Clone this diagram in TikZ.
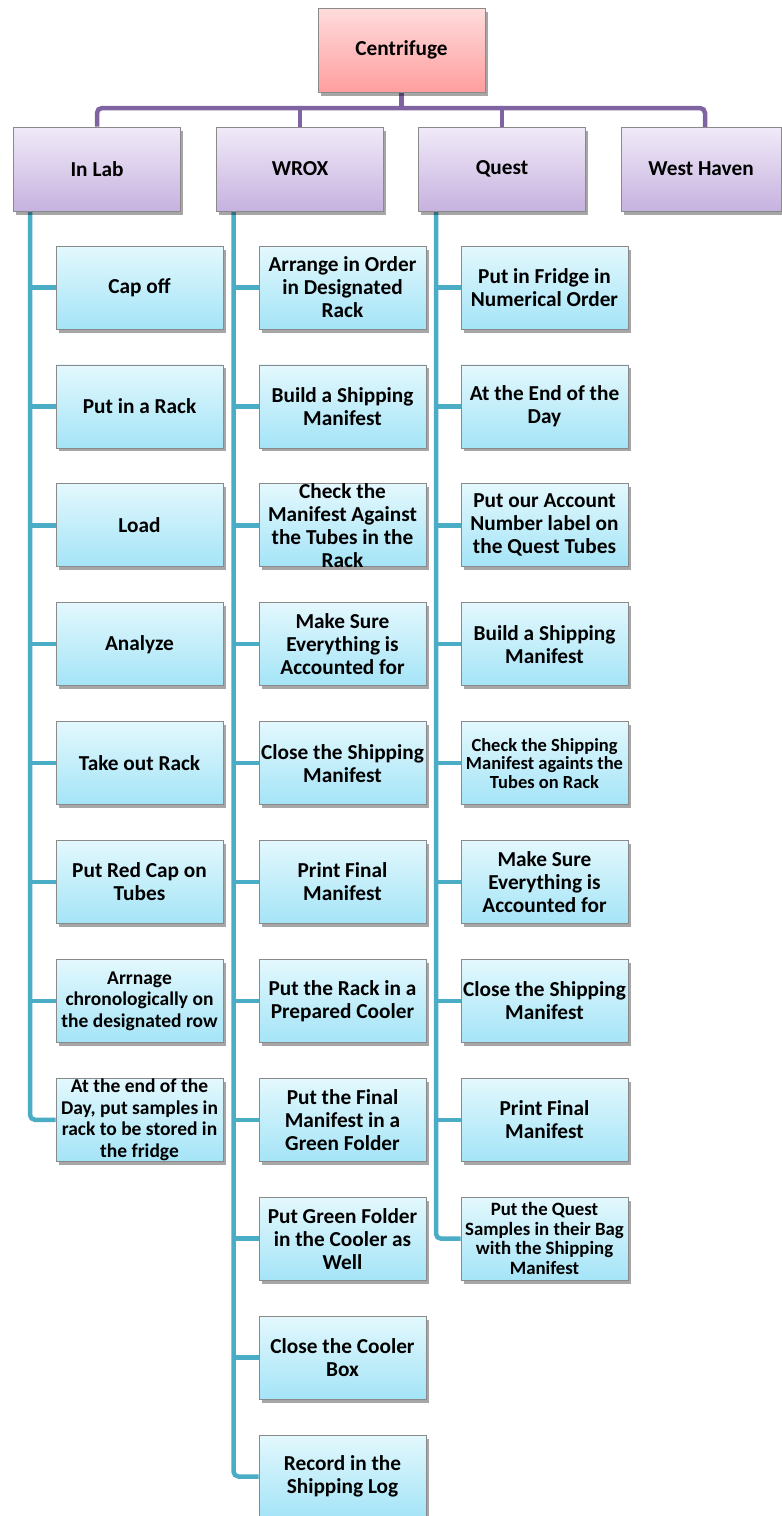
\documentclass[tikz,border=0pt]{standalone}
\usepackage{fontspec}
\setmainfont{Carlito}
\usetikzlibrary{shadows,backgrounds}
\definecolor{pinkT}{HTML}{FFDCDC}
\definecolor{pinkB}{HTML}{FF9E9E}
\definecolor{purT}{HTML}{F0EAF8}
\definecolor{purB}{HTML}{C6B2DF}
\definecolor{cyT}{HTML}{E3F8FD}
\definecolor{cyB}{HTML}{A4E4F7}
\definecolor{busC}{HTML}{8064A2}
\definecolor{spineC}{HTML}{4BACC6}
\definecolor{edgeC}{HTML}{8A8A8A}
\tikzset{
  basebox/.style={draw=edgeC, line width=0.8pt, minimum width=167pt, minimum height=83pt, inner sep=0pt,
    drop shadow={shadow xshift=2.5pt, shadow yshift=-3.5pt, opacity=0.35, fill=black}},
  rootbox/.style={basebox, top color=pinkT, bottom color=pinkB, minimum height=84pt},
  grpbox/.style={basebox, top color=purT, bottom color=purB, minimum height=84pt},
  stepbox/.style={basebox, top color=cyT, bottom color=cyB},
  txt/.style={align=center, inner sep=0pt, text=black},
  bus/.style={draw=busC, line width=4.5pt, rounded corners=5pt},
  spine/.style={draw=spineC, line width=4.5pt, rounded corners=5pt},
}
\newcommand{\nfont}{\fontsize{21.3}{23}\selectfont\bfseries}
\newcommand{\sfontA}{\fontsize{19.5}{21.5}\selectfont\bfseries}
\newcommand{\sfontB}{\fontsize{18.5}{18.5}\selectfont\bfseries}
\newcommand{\sfontC}{\fontsize{18.8}{19.5}\selectfont\bfseries}
\newcommand{\mkbox}[6]{\node[#4] (#1) at (#2,#3) {}; \node[txt, font=#5] (#1t) at (#1) {#6};}
\begin{document}
\begin{tikzpicture}[x=1pt, y=-1pt]
\useasboundingbox (0,0) rectangle (782,1516);
\coordinate (busY) at (401.5,108);
\coordinate (whtop) at (705,127);
\coordinate (labS) at (30,211);
\coordinate (wroxS) at (233.5,211);
\coordinate (questS) at (436,211);
% boxes
\mkbox{cent}{401.5}{50}{rootbox}{\nfont}{Centrifuge}
\mkbox{lab}{97}{169}{grpbox}{\nfont}{In Lab}
\mkbox{wrox}{300}{169}{grpbox}{\nfont}{WROX}
\mkbox{quest}{502}{169}{grpbox}{\nfont}{Quest}
\node[grpbox, minimum width=160pt] (wh) at (701,169) {};
\node[txt, font=\nfont] (wht) at (wh) {West Haven};
% In Lab children
\mkbox{l1}{139.5}{287.5}{stepbox}{\nfont}{Cap off}
\mkbox{l2}{139.5}{406.4}{stepbox}{\nfont}{Put in a Rack}
\mkbox{l3}{139.5}{525.3}{stepbox}{\nfont}{Load}
\mkbox{l4}{139.5}{644.2}{stepbox}{\nfont}{Analyze}
\mkbox{l5}{139.5}{763.1}{stepbox}{\nfont}{Take out Rack}
\mkbox{l6}{139.5}{882.0}{stepbox}{\nfont}{Put Red Cap on\\Tubes}
\mkbox{l7}{139.5}{1000.9}{stepbox}{\sfontA}{Arrnage\\chronologically on\\the designated row}
\mkbox{l8}{139.5}{1119.8}{stepbox}{\sfontA}{At the end of the\\Day, put samples in\\rack to be stored in\\the fridge}
% WROX children
\mkbox{w1}{342.5}{287.5}{stepbox}{\nfont}{Arrange in Order\\in Designated\\Rack}
\mkbox{w2}{342.5}{406.4}{stepbox}{\nfont}{Build a Shipping\\Manifest}
\mkbox{w3}{342.5}{525.3}{stepbox}{\nfont}{Check the\\Manifest Against\\the Tubes in the\\Rack}
\mkbox{w4}{342.5}{644.2}{stepbox}{\nfont}{Make Sure\\Everything is\\Accounted for}
\mkbox{w5}{342.5}{763.1}{stepbox}{\nfont}{Close the Shipping\\Manifest}
\mkbox{w6}{342.5}{882.0}{stepbox}{\nfont}{Print Final\\Manifest}
\mkbox{w7}{342.5}{1000.9}{stepbox}{\nfont}{Put the Rack in a\\Prepared Cooler}
\mkbox{w8}{342.5}{1119.8}{stepbox}{\nfont}{Put the Final\\Manifest in a\\Green Folder}
\mkbox{w9}{342.5}{1238.7}{stepbox}{\nfont}{Put Green Folder\\in the Cooler as\\Well}
\mkbox{w10}{342.5}{1357.6}{stepbox}{\nfont}{Close the Cooler\\Box}
\mkbox{w11}{342.5}{1476.5}{stepbox}{\nfont}{Record in the\\Shipping Log}
% Quest children
\mkbox{q1}{544.5}{287.5}{stepbox}{\nfont}{Put in Fridge in\\Numerical Order}
\mkbox{q2}{544.5}{406.4}{stepbox}{\nfont}{At the End of the\\Day}
\mkbox{q3}{544.5}{525.3}{stepbox}{\nfont}{Put our Account\\Number label on\\the Quest Tubes}
\mkbox{q4}{544.5}{644.2}{stepbox}{\nfont}{Build a Shipping\\Manifest}
\mkbox{q5}{544.5}{763.1}{stepbox}{\sfontB}{Check the Shipping\\Manifest againts the\\Tubes on Rack}
\mkbox{q6}{544.5}{882.0}{stepbox}{\nfont}{Make Sure\\Everything is\\Accounted for}
\mkbox{q7}{544.5}{1000.9}{stepbox}{\nfont}{Close the Shipping\\Manifest}
\mkbox{q8}{544.5}{1119.8}{stepbox}{\nfont}{Print Final\\Manifest}
\mkbox{q9}{544.5}{1238.7}{stepbox}{\sfontC}{Put the Quest\\Samples in their Bag\\with the Shipping\\Manifest}
% connectors behind the boxes
\begin{scope}[on background layer]
\draw[bus] (cent.south) -- (busY);
\draw[bus] (lab.north) |- (busY) -| (whtop);
\draw[bus] (wrox.north) -- (wrox.north |- busY);
\draw[bus] (quest.north) -- (quest.north |- busY);
\draw[spine] (labS) |- (l8.west);
\foreach \i in {1,...,7} \draw[spine] (labS |- l\i.west) -- (l\i.west);
\draw[spine] (wroxS) |- (w11.west);
\foreach \i in {1,...,10} \draw[spine] (wroxS |- w\i.west) -- (w\i.west);
\draw[spine] (questS) |- (q9.west);
\foreach \i in {1,...,8} \draw[spine] (questS |- q\i.west) -- (q\i.west);
\end{scope}
\end{tikzpicture}
\end{document}
